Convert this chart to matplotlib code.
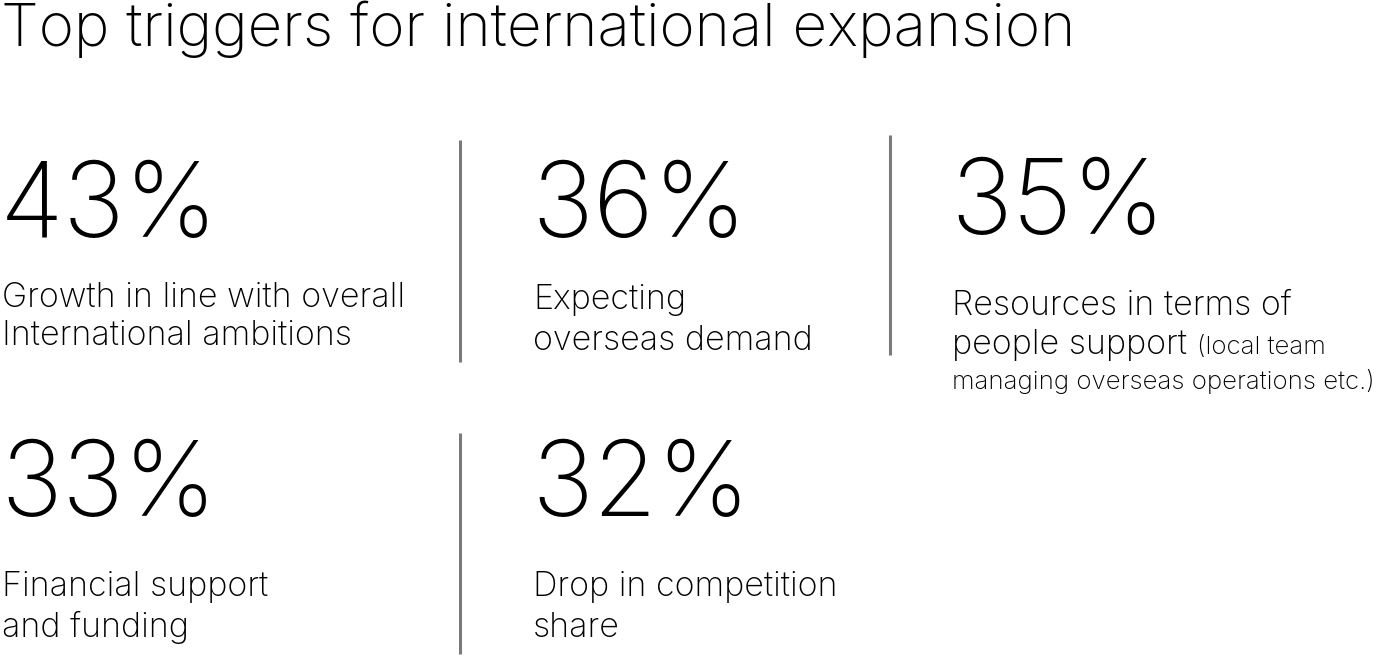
import matplotlib
matplotlib.use("Agg")
import matplotlib.pyplot as plt

title = "Top triggers for international expansion"
values = ["43%", "36%", "35%", "33%", "32%"]
labels = [
    ["Growth in line with overall", "International ambitions"],
    ["Expecting", "overseas demand"],
    ["Resources in terms of", "people support"],
    ["Financial support", "and funding"],
    ["Drop in competition", "share"],
]
note_lines = ["(local team", "managing overseas operations etc.)"]

W, H = 1379, 656
fig = plt.figure(figsize=(W / 100, H / 100), dpi=100)
ax = fig.add_axes([0, 0, 1, 1])
ax.set_xlim(0, W)
ax.set_ylim(H, 0)
ax.axis("off")

FONT = "Inter"
WEIGHT = "light"

# layout (pixel positions)
col_x = [2, 533, 952, 2, 533]
num_shift = -2
num_base = [237, 237, 234, 516, 516]
label_base = [[307, 345], [309, 350], [315, 354], [596, 637], [596, 637]]
note_base = [354, 389]

ax.text(1, 46, title, fontsize=43.3, family=FONT, weight=WEIGHT,
        va="baseline", ha="left", color="black")

fig.canvas.draw()
r = fig.canvas.get_renderer()
for i, v in enumerate(values):
    ax.text(col_x[i] + num_shift, num_base[i], v, fontsize=75, family=FONT, weight=WEIGHT,
            va="baseline", ha="left", color="black")
    for j, line in enumerate(labels[i]):
        t = ax.text(col_x[i], label_base[i][j], line, fontsize=24.5, family=FONT,
                    weight=WEIGHT, va="baseline", ha="left", color="black")
        if i == 2 and j == 1:
            bb = t.get_window_extent(renderer=r)
            ax.text(col_x[i] + bb.width + 10, note_base[0], note_lines[0], fontsize=18.6,
                    family=FONT, weight=WEIGHT, va="baseline", ha="left", color="black")
            ax.text(col_x[i], note_base[1], note_lines[1], fontsize=18.6,
                    family=FONT, weight=WEIGHT, va="baseline", ha="left", color="black")

# dividers
div_x = [460, 890, 460]
div_y0 = [140, 135, 433]
div_y1 = [362, 355, 654]
for x, y0, y1 in zip(div_x, div_y0, div_y1):
    ax.plot([x, x], [y0, y1], color="#7a7a7a", lw=2.2, solid_capstyle="butt")

fig.savefig("out.png", dpi=100, facecolor="white")
